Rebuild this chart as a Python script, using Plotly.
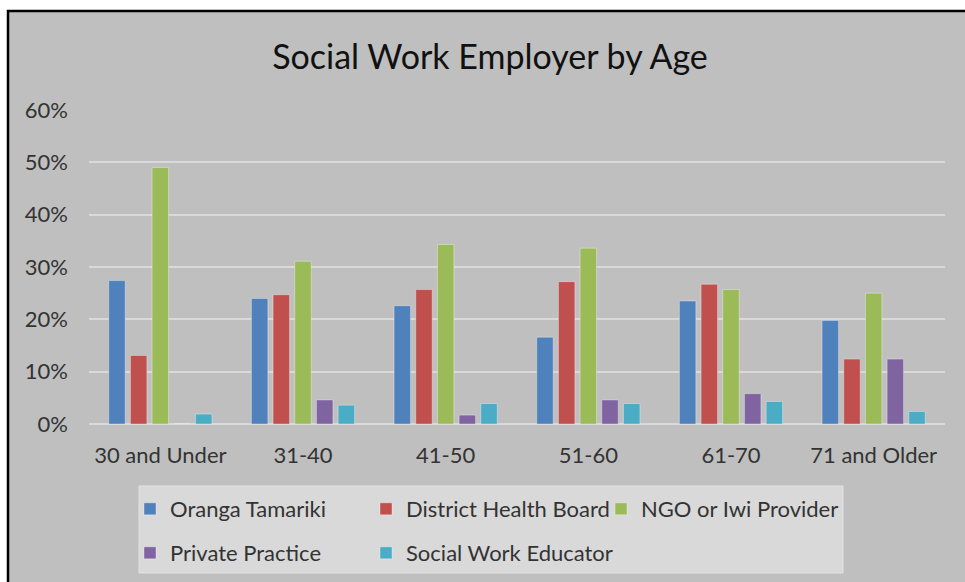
import plotly.graph_objects as go

# Age bands on the category axis
age_groups = ["30 and Under", "31-40", "41-50", "51-60", "61-70", "71 and Older"]

# Share of social workers in each age band, by employer
oranga_tamariki = [0.274, 0.240, 0.226, 0.166, 0.235, 0.198]
district_health_board = [0.131, 0.247, 0.257, 0.272, 0.267, 0.124]
ngo_or_iwi = [0.490, 0.311, 0.343, 0.336, 0.257, 0.250]
private_practice = [0.0, 0.046, 0.017, 0.046, 0.058, 0.124]
social_work_educator = [0.019, 0.036, 0.039, 0.039, 0.043, 0.024]

y_ticks = [0, 0.1, 0.2, 0.3, 0.4, 0.5, 0.6]

series = [
    ("Oranga Tamariki", oranga_tamariki, "#4F81BD"),
    ("District Health Board", district_health_board, "#C0504D"),
    ("NGO or Iwi Provider", ngo_or_iwi, "#9BBB59"),
    ("Private Practice", private_practice, "#8064A2"),
    ("Social Work Educator", social_work_educator, "#4BACC6"),
]

W, H = 965, 582
L, R, T, B = 89, 20, 110, 158
PW, PH = W - L - R, H - T - B


def px_x(p):
    return (p - L) / PW


def px_y(p):
    return (H - B - p) / PH


FONT = "Lato"
TEXT = "#333333"

# one legend per entry so the entries sit on a fixed two-row grid
legend_ids = ["legend", "legend2", "legend3", "legend4", "legend5"]
legend_pos = [(130, 509), (366, 509), (601, 509), (130, 553), (366, 553)]

fig = go.Figure()
for (name, vals, color), leg in zip(series, legend_ids):
    fig.add_trace(go.Bar(
        x=age_groups, y=vals, name=name,
        marker=dict(color=color, line=dict(color="rgba(255,255,255,0.35)", width=1)),
        legend=leg,
    ))

shapes = [
    # chart frame
    dict(type="rect", xref="paper", yref="paper",
         x0=px_x(8), x1=px_x(990), y0=px_y(11), y1=px_y(620),
         fillcolor="#BFBFBF", line=dict(color="#000000", width=2.5), layer="below"),
    # legend panel
    dict(type="rect", xref="paper", yref="paper",
         x0=px_x(139), x1=px_x(843), y0=px_y(486), y1=px_y(573),
         fillcolor="#D9D9D9", line=dict(color="#E2E2E2", width=1), layer="below"),
]

legend_layout = {}
for leg, (lx, ly) in zip(legend_ids, legend_pos):
    legend_layout[leg] = dict(
        x=lx / W, y=1 - ly / H, xref="container", yref="container",
        xanchor="left", yanchor="middle", orientation="h",
        bgcolor="rgba(0,0,0,0)", borderwidth=0,
        font=dict(family=FONT, size=22, color=TEXT),
        itemclick=False, itemdoubleclick=False,
    )

fig.update_layout(
    width=W, height=H,
    margin=dict(l=L, r=R, t=T, b=B, autoexpand=False),
    paper_bgcolor="#FFFFFF",
    plot_bgcolor="rgba(0,0,0,0)",
    barmode="group", bargap=0.24, bargroupgap=0.24,
    title=dict(text="Social Work Employer by Age", x=490 / W, xanchor="center",
               y=1 - 57 / H, yanchor="middle", yref="container",
               font=dict(family=FONT, size=34, color="#111111")),
    xaxis=dict(showgrid=False, showline=False, zeroline=False, ticks="",
               tickfont=dict(family=FONT, size=22, color=TEXT),
               ticklabelstandoff=16, fixedrange=True),
    yaxis=dict(range=[0, 0.6], tickvals=y_ticks, tickformat=".0%",
               showgrid=True, gridcolor="#D9D9D9", gridwidth=2,
               zeroline=True, zerolinecolor="#D9D9D9", zerolinewidth=2,
               showline=False, ticks="",
               tickfont=dict(family=FONT, size=22, color=TEXT),
               ticklabelstandoff=20, fixedrange=True),
    shapes=shapes,
    showlegend=True,
    **legend_layout,
)

fig.write_html("out.html")
